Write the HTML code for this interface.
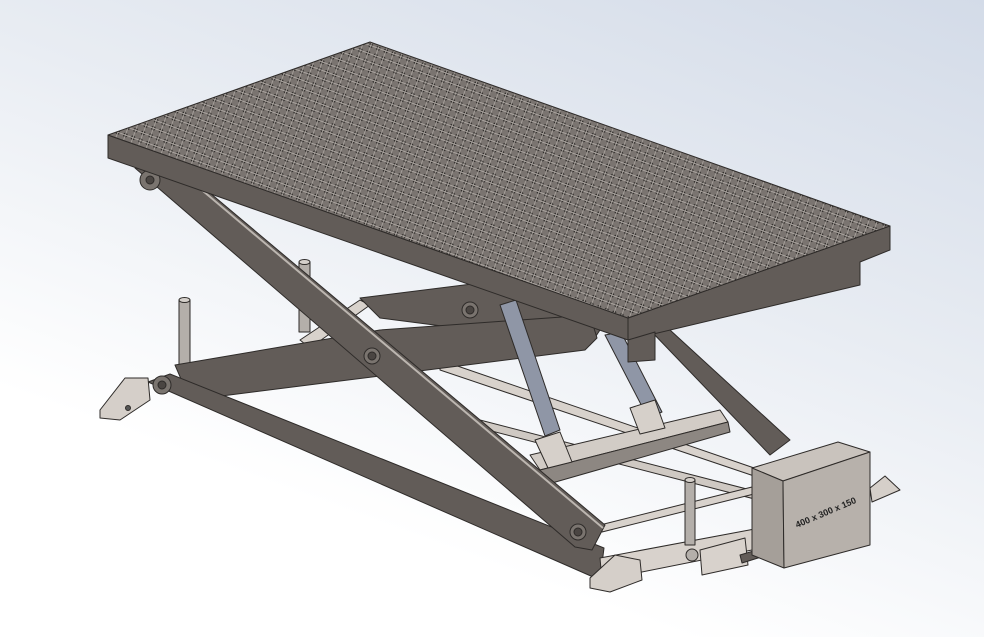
<!DOCTYPE html>
<html><head><style>
html,body{margin:0;padding:0;}
body{width:984px;height:637px;overflow:hidden;background:linear-gradient(200deg,#d3dbe8 0%,#e9edf3 40%,#ffffff 75%);}
svg{position:absolute;left:0;top:0;}
</style></head><body>
<svg width="984" height="637" viewBox="0 0 984 637">
<defs>
<pattern id="p" width="8" height="8" patternUnits="userSpaceOnUse" patternTransform="rotate(20)">
<rect width="8" height="8" fill="#7a7470"/>
<circle cx="4" cy="4" r="2.3" fill="#2f2c2a"/>
<path d="M0 4h8M4 0v8" stroke="#aaa49f" stroke-width="0.9"/>
</pattern>
</defs>
<g stroke="#2e2b29" stroke-width="1" stroke-linejoin="round">
<polygon points="300,340 360,300 370,305 310,348" fill="#d8d2cc"/>
<polygon points="440,360 760,470 760,478 440,370" fill="#d8d2cc"/>
<polygon points="480,420 770,495 770,503 480,428" fill="#cfc9c3"/>
<rect x="179" y="300" width="11" height="70" fill="#b4afaa"/>
<ellipse cx="184.5" cy="300" rx="5.5" ry="2.5" fill="#d5d0cb"/>
<rect x="299" y="262" width="11" height="70" fill="#b4afaa"/>
<ellipse cx="304.5" cy="262" rx="5.5" ry="2.5" fill="#d5d0cb"/>
<polygon points="650,330 670,330 790,440 770,455" fill="#625c58"/>
<polygon points="360,298 480,283 600,330 590,345 380,318" fill="#625c58"/>
<polygon points="175,365 380,330 590,315 597,338 585,350 190,400" fill="#625c58"/>
<polygon points="500,305 516,300 560,430 545,436" fill="#8f96a6"/>
<polygon points="605,335 621,332 662,412 648,418" fill="#8f96a6"/>
<polygon points="530,455 720,410 728,422 540,470" fill="#d2ccc6"/>
<polygon points="540,470 728,422 730,432 545,485" fill="#8d8782"/>
<polygon points="535,440 560,432 572,462 548,468" fill="#d6d0ca"/>
<polygon points="630,408 655,400 665,428 640,434" fill="#d6d0ca"/>
<polygon points="600,525 760,485 762,492 602,532" fill="#d8d2cc"/>
<polygon points="148,382 170,374 604,548 600,580" fill="#625c58"/>
<polygon points="600,558 760,528 762,548 602,580" fill="#d8d2cc"/>
<polygon points="135,168 185,172 605,525 592,550 575,547" fill="#625c58"/>
<line x1="190" y1="180" x2="603" y2="528" stroke="#bcb6b0" stroke-width="2"/>
<circle cx="372" cy="356" r="8" fill="#7a746f"/><circle cx="372" cy="356" r="4" fill="#4a4542"/>
<circle cx="162" cy="385" r="9" fill="#7a746f"/><circle cx="162" cy="385" r="4" fill="#4a4542"/>
<circle cx="578" cy="532" r="8" fill="#7a746f"/><circle cx="578" cy="532" r="4" fill="#4a4542"/>
<circle cx="470" cy="310" r="8" fill="#7a746f"/><circle cx="470" cy="310" r="4" fill="#4a4542"/>
<circle cx="150" cy="180" r="10" fill="#7a746f"/><circle cx="150" cy="180" r="4" fill="#4a4542"/>
<polygon points="100,410 125,378 148,378 150,400 120,420 100,418" fill="#d5cfc9"/>
<circle cx="128" cy="408" r="2.5" fill="#555"/>
<polygon points="590,578 615,555 640,560 642,580 610,592 590,588" fill="#d5cfc9"/>
<polygon points="870,488 885,476 900,490 872,502" fill="#d5cfc9"/>
<rect x="685" y="480" width="10" height="65" fill="#b4afaa"/>
<ellipse cx="690" cy="480" rx="5" ry="2.5" fill="#d5d0cb"/>
<circle cx="692" cy="555" r="6" fill="#b4afaa"/>
<polygon points="700,550 745,538 748,565 702,575" fill="#d8d2cc"/>
<polygon points="740,555 790,540 790,548 742,563" fill="#625c58"/>
<polygon points="752,468 838,442 870,452 783,481" fill="#c9c3bd"/>
<polygon points="752,468 783,481 784,568 752,555" fill="#a59f99"/>
<polygon points="783,481 870,452 870,545 784,568" fill="#b7b1ab"/>
<text x="0" y="0" transform="translate(797,528) rotate(-23)" font-family="Liberation Sans, sans-serif" font-size="9" font-weight="bold" fill="#222" stroke="none">400 x 300 x 150</text>
<polygon points="628,318 890,226 890,250 860,262 860,285 628,340" fill="#625c58"/>
<polygon points="108,135 628,318 628,340 108,158" fill="#625c58"/>
<polygon points="108,135 370,42 890,226 628,318" fill="url(#p)"/>
<polygon points="628,340 655,332 655,360 628,362" fill="#625c58"/>
</g>
</svg>
</body></html>
